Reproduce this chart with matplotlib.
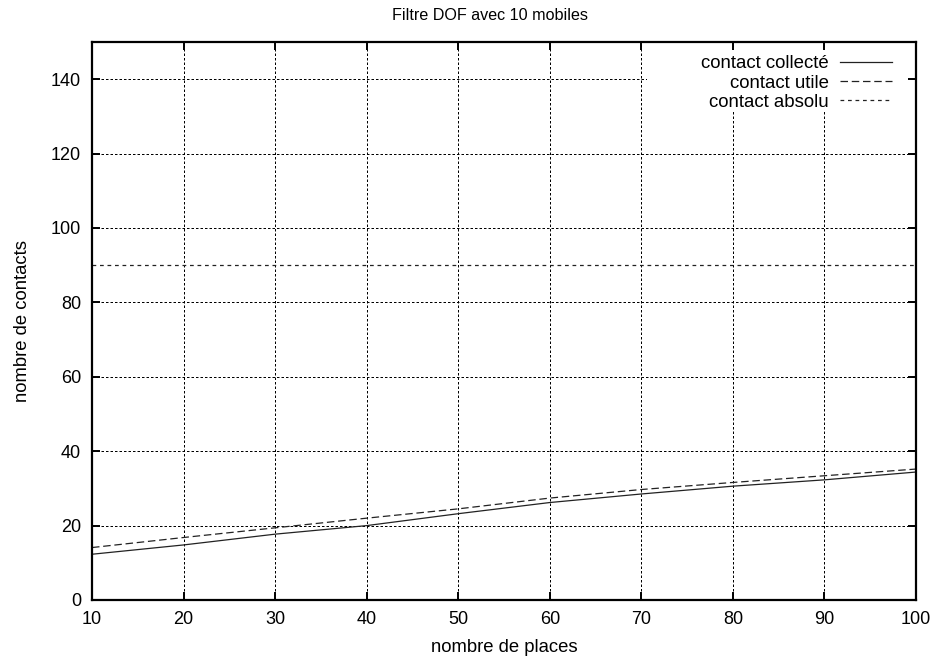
import matplotlib
matplotlib.use("Agg")
import matplotlib.pyplot as plt
from matplotlib.patches import Rectangle

plt.rcParams["font.family"] = ["Liberation Sans", "DejaVu Sans"]

# données
places = [10, 20, 30, 40, 50, 60, 70, 80, 90, 100]
contact_collecte = [12.3, 14.8, 17.7, 20.0, 23.2, 26.2, 28.5, 30.6, 32.3, 34.4]
contact_utile = [14.1, 16.8, 19.4, 22.0, 24.5, 27.4, 29.7, 31.6, 33.4, 35.2]
contact_absolu = [90, 90, 90, 90, 90, 90, 90, 90, 90, 90]

x_ticks = [10, 20, 30, 40, 50, 60, 70, 80, 90, 100]
y_ticks = [0, 20, 40, 60, 80, 100, 120, 140]

fig = plt.figure(figsize=(9.38, 6.62), dpi=100)
ax = fig.add_axes([92 / 938, 62 / 662, 824 / 938, 558 / 662])

ax.set_axisbelow(True)
ax.grid(True, color="black", linewidth=0.72, linestyle=(0, (2.5, 2)))

# zone de la légende : gnuplot n'y dessine pas la grille
ax.add_patch(Rectangle((0.6735, 0.878), 0.3165, 0.1077, transform=ax.transAxes,
                       facecolor="white", edgecolor="none", zorder=1))

ax.plot(places, contact_collecte, color="#222222", linewidth=0.9,
        label="contact collecté", zorder=2)
ax.plot(places, contact_utile, color="#222222", linewidth=0.9,
        linestyle=(0, (6, 3)), label="contact utile", zorder=2)
ax.plot(places, contact_absolu, color="#222222", linewidth=0.9,
        linestyle=(0, (3, 3)), label="contact absolu", zorder=2)

ax.set_xlim(10, 100)
ax.set_ylim(0, 150)
ax.set_xticks(x_ticks)
ax.set_yticks(y_ticks)
ax.tick_params(direction="in", length=6, width=1.4, labelsize=13,
               top=True, right=True, pad=8, colors="black")
for sp in ax.spines.values():
    sp.set_linewidth(1.6)

ax.set_xlabel("nombre de places", fontsize=13.3, labelpad=8)
ax.set_ylabel("nombre de contacts", fontsize=13.3, labelpad=14)
fig.text(490 / 938, 0.977, "Filtre DOF avec 10 mobiles", fontsize=11.6,
         ha="center", va="center")

leg = ax.legend(loc="upper right", bbox_to_anchor=(0.971, 0.976),
                frameon=False, fontsize=13.4, markerfirst=False,
                handlelength=2.8, handletextpad=0.6, labelspacing=0.12,
                borderpad=0, borderaxespad=0)
leg.set_zorder(5)

fig.savefig("out.png", dpi=100)
